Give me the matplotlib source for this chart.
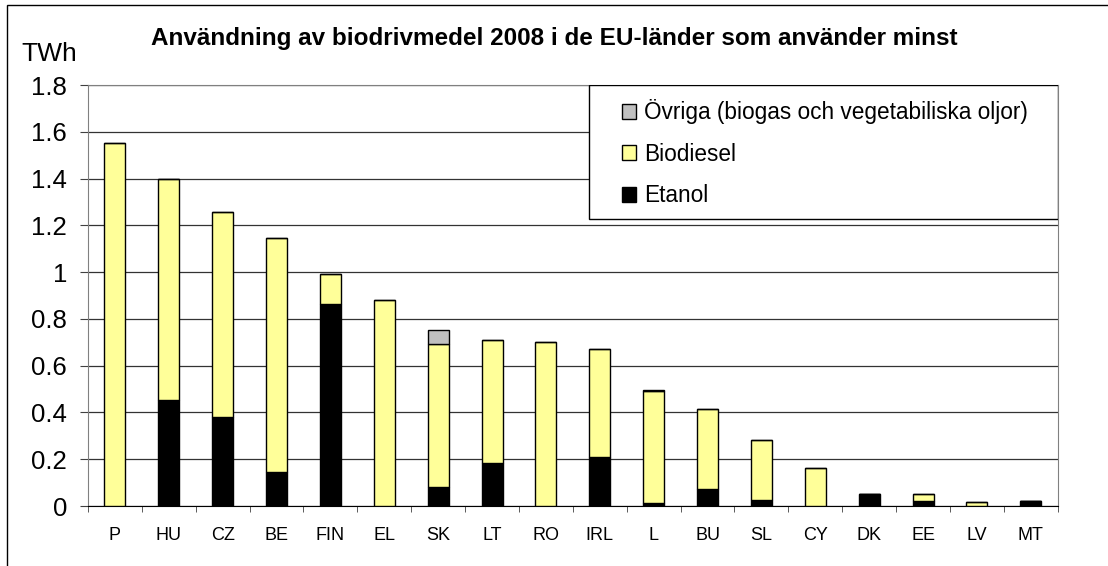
import matplotlib.pyplot as plt
from matplotlib.patches import Patch, Rectangle
import numpy as np

plt.rcParams['font.family'] = ['Liberation Sans', 'DejaVu Sans']

countries = ["P", "HU", "CZ", "BE", "FIN", "EL", "SK", "LT", "RO",
             "IRL", "L", "BU", "SL", "CY", "DK", "EE", "LV", "MT"]
etanol = [0, 0.455, 0.38, 0.145, 0.865, 0, 0.08, 0.185, 0,
          0.21, 0.013, 0.073, 0.027, 0, 0.053, 0.021, 0, 0.02]
biodiesel = [1.55, 0.945, 0.878, 1.002, 0.125, 0.88, 0.612, 0.526, 0.70,
             0.463, 0.477, 0.342, 0.257, 0.161, 0, 0.032, 0.018, 0]
ovriga = [0, 0, 0, 0, 0, 0, 0.059, 0, 0,
          0, 0.008, 0, 0, 0, 0, 0, 0, 0]
yticks = [0, 0.2, 0.4, 0.6, 0.8, 1, 1.2, 1.4, 1.6, 1.8]
ytick_labels = ["0", "0.2", "0.4", "0.6", "0.8", "1", "1.2", "1.4", "1.6", "1.8"]

fig = plt.figure(figsize=(11.08, 5.66), dpi=100)
ax = fig.add_axes([88 / 1108, 1 - 506 / 566, 969.7 / 1108, 421 / 566])

x = np.arange(len(countries))
etanol = np.array(etanol)
biodiesel = np.array(biodiesel)
ovriga = np.array(ovriga)
w = 0.39

ax.bar(x, etanol, w, color='black', edgecolor='black', linewidth=1, zorder=3)
ax.bar(x, biodiesel, w, bottom=etanol, color='#FFFF99', edgecolor='black',
       linewidth=1, zorder=3)
ax.bar(x, ovriga, w, bottom=etanol + biodiesel, color='#C0C0C0',
       edgecolor='black', linewidth=1, zorder=3)

ax.set_xlim(-0.5, len(countries) - 0.5)
ax.set_ylim(0, 1.8)
ax.set_yticks(yticks)
ax.set_yticklabels(ytick_labels, fontsize=18.5)
ax.set_xticks(x)
ax.set_xticklabels(countries, fontsize=13)
ax.set_xticks(np.arange(len(countries) + 1) - 0.5, minor=True)
ax.tick_params(axis='x', which='major', length=0, pad=15)
ax.tick_params(axis='x', which='minor', length=4, direction='out', color='#404040')
ax.tick_params(axis='y', length=6, direction='out', pad=9, color='#404040')

ax.yaxis.grid(True, color='#333333', linewidth=0.9, zorder=0)
ax.set_axisbelow(True)
for side in ['left', 'top', 'right']:
    ax.spines[side].set_color('#808080')
ax.spines['bottom'].set_color('black')

# legend (frame drawn separately to get the wide padding)
handles = [Patch(facecolor='#C0C0C0', edgecolor='black'),
           Patch(facecolor='#FFFF99', edgecolor='black'),
           Patch(facecolor='black', edgecolor='black')]
labels = ["Övriga (biogas och vegetabiliska oljor)", "Biodiesel", "Etanol"]
ax.legend(handles, labels, loc='upper left', bbox_to_anchor=(0.5504, 0.9667),
          frameon=False, fontsize=16.3, borderpad=0, borderaxespad=0,
          handlelength=0.65, handleheight=0.65, handletextpad=0.35,
          labelspacing=0.82)
ax.add_patch(Rectangle((0.5167, 0.6817), 1 - 0.5167, 1 - 0.6817,
                       transform=ax.transAxes, fill=True, facecolor='white',
                       edgecolor='black', linewidth=1, zorder=4))

fig.text(0.5, 1 - 38 / 566, "Användning av biodrivmedel 2008 i de EU-länder som använder minst",
         ha='center', va='center', fontsize=17.5, fontweight='bold')
fig.text(21 / 1108, 1 - 54 / 566, "TWh", ha='left', va='center', fontsize=19)

fig.patches.append(Rectangle((7 / 1108, -0.1), 1.2, 1.1 - 5 / 566,
                             transform=fig.transFigure, fill=False,
                             edgecolor='black', linewidth=1))

fig.savefig('out.png', dpi=100)
